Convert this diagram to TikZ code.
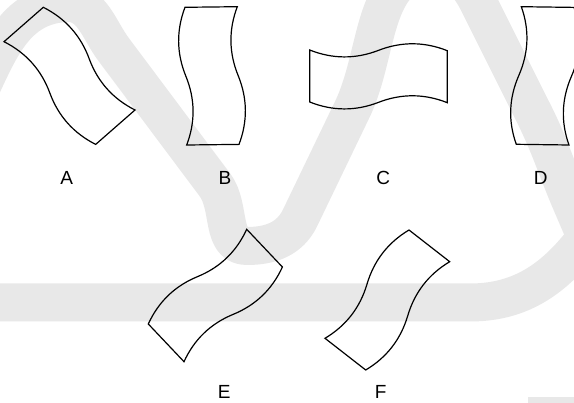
\documentclass[tikz,border=0pt]{standalone}
\usepackage{fontspec}
\setmainfont{Liberation Sans}
\definecolor{wm}{RGB}{232,232,232}
\tikzset{
  band/.style={draw=wm, line width=38pt, line cap=butt, line join=round},
  tile/.style={draw=black, line width=1.2pt, line join=miter},
  lab/.style={font=\fontsize{19}{19}\selectfont, inner sep=0pt, anchor=center}
}
\newcommand{\wavetile}{%
  \draw[tile] (0,0) .. controls (-0.173,0.1667) and (-0.173,0.3333) .. (0,0.5)
     .. controls (0.173,0.6667) and (0.173,0.8333) .. (0,1)
     -- (1,1) .. controls (1.173,0.8333) and (1.173,0.6667) .. (1,0.5)
     .. controls (0.827,0.3333) and (0.827,0.1667) .. (1,0) -- cycle;}
\begin{document}
\begin{tikzpicture}[x=1pt,y=1pt]
\useasboundingbox (0,0) rectangle (574,-403);
\begin{scope}
\clip (0,0) rectangle (574,-403);
\fill[white] (0,0) rectangle (574,-403);
% watermark bands
\draw[band] (-40,-128) to[out=58,in=183] (66,-3) to[out=3,in=127] (114,-50)
  -- (215,-185) to[out=-53,in=180] (247,-246) to[out=0,in=-116] (300,-218)
  -- (352,-110) to[out=64,in=180] (434,30) to[out=0,in=117] (477,0)
  -- (532,-110) to[out=-63,in=113] (570,-200) -- (600,-270);
\draw[band] (-20,-302.5) -- (470,-302.5) to[out=0,in=-125] (595,-225);
\fill[wm] (528,-397) rectangle (574,-403);
\end{scope}
% tiles: shift = O, x = P-O, y = Q-O
\begin{scope}[shift={(43.3,-7.3)}, x={(-39.3pt,-34.4pt)}, y={(91.7pt,-102.7pt)}]\wavetile\end{scope}
\begin{scope}[shift={(185,-7.3)}, x={(52.3pt,0.6pt)}, y={(1.7pt,-137.7pt)}]\wavetile\end{scope}
\begin{scope}[shift={(447.3,-50.7)}, x={(0pt,-52pt)}, y={(-137.6pt,0.7pt)}]\wavetile\end{scope}
\begin{scope}[shift={(516.3,-144.3)}, x={(52.7pt,-0.7pt)}, y={(5pt,137.6pt)}]\wavetile\end{scope}
\begin{scope}[shift={(148.3,-324)}, x={(35.7pt,-37.7pt)}, y={(98.4pt,94.7pt)}]\wavetile\end{scope}
\begin{scope}[shift={(409,-230)}, x={(40.7pt,-31.7pt)}, y={(-84pt,-108.3pt)}]\wavetile\end{scope}
% labels
\node[lab] (la) at (66.7,-178.3) {A};
\node[lab] (lb) at (225,-178.3) {B};
\node[lab] (lc) at (383.3,-178.3) {C};
\node[lab] (ld) at (540.7,-178.3) {D};
\node[lab] (le) at (224.3,-391.7) {E};
\node[lab] (lf) at (380.7,-391.7) {F};
\end{tikzpicture}
\end{document}
